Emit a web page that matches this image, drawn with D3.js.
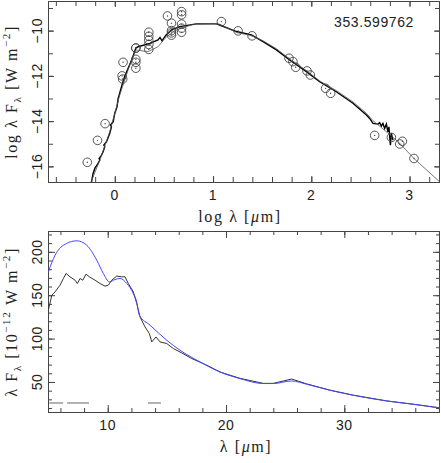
<!DOCTYPE html>
<html>
<head>
<meta charset="utf-8">
<script src="https://cdn.jsdelivr.net/npm/d3@7"></script>
<style>
  body { margin: 0; background: #fff; }
  svg { display: block; }
  .tick line { stroke: #444; }
  .domain { stroke: none; }
  .num { font-family: "Liberation Sans", Arial, sans-serif; font-size: 14px; letter-spacing: 0.6px; fill: #222; }
  .ttl { font-family: "Liberation Serif", "Times New Roman", serif; font-size: 16px; letter-spacing: 1.6px; fill: #222; }
</style>
</head>
<body>
<svg width="441" height="463"></svg>
<script>
// ---- top panel: log lambda / log lambda F_lambda ----
var photLogLam = [-0.28, -0.176, -0.099, 0.084, 0.074, 0.08, 0.214, 0.214, 0.214, 0.214, 0.214,
    0.346, 0.346, 0.346, 0.346, 0.346, 0.536, 0.577, 0.577, 0.577, 0.577,
    0.68, 0.68, 0.68, 0.68, 0.68, 1.085, 1.255, 1.397, 1.773, 1.813, 1.841,
    1.956, 1.99, 2.146, 2.197, 2.645, 2.815, 2.90, 2.927, 3.045];
var photLogF = [-15.82, -14.85, -14.11, -11.40, -12.0, -12.14, -10.77, -10.77, -11.27, -11.40, -11.66,
    -10.07, -10.25, -10.42, -10.61, -10.83, -9.35, -9.67, -10.0, -10.1, -10.2,
    -9.16, -9.30, -9.71, -9.89, -10.07, -9.6, -10.01, -10.23, -11.22, -11.37, -11.62,
    -11.78, -11.96, -12.55, -12.77, -14.63, -14.72, -15.01, -14.89, -15.65];

var sedLogLam = [-0.26, -0.237, -0.221, -0.203, -0.170, -0.153, -0.160, -0.135, -0.119, -0.102, -0.112,
    -0.084, -0.051, -0.034, -0.044, -0.017, 0.0, 0.023, 0.034, 0.044, 0.068, 0.084, 0.099,
    0.150, 0.183, 0.214, 0.237, 0.356, 0.44, 0.46, 0.48, 0.52, 0.577, 0.661, 0.831, 1.035,
    1.068, 1.238, 1.391, 1.509, 1.645, 1.78, 1.95, 2.085, 2.255, 2.424, 2.561, 2.594,
    2.628, 2.679, 2.696, 2.713, 2.729, 2.747, 2.764, 2.780, 2.790, 2.805, 2.815, 2.831];
var sedLogF = [-17.2, -16.68, -16.31, -16.09, -15.87, -15.72, -15.65, -15.50, -15.35, -15.13, -15.06,
    -14.91, -14.54, -14.25, -14.17, -14.03, -13.65, -13.36, -12.99, -12.85, -12.48, -12.26, -12.04,
    -11.52, -11.16, -10.77, -10.71, -10.56, -10.41, -10.30, -10.45, -10.20, -9.97, -9.82, -9.70, -9.70,
    -9.75, -10.04, -10.19, -10.49, -10.85, -11.30, -11.81, -12.26, -12.70, -13.21, -13.73, -13.88,
    -14.10, -14.13, -14.07, -14.22, -14.10, -14.32, -14.13, -14.47, -14.25, -15.06, -14.54, -14.84];

var modLogLam = [-0.27, -0.15, -0.05, 0.05, 0.15, 0.214, 0.338, 0.44, 0.526, 0.628, 0.8, 1.0,
    1.068, 1.238, 1.391, 1.509, 1.645, 1.78, 1.95, 2.085, 2.255, 2.424, 2.561, 2.628,
    2.815, 2.899, 3.045, 3.306];
var modLogF = [-17.0, -15.7, -14.45, -12.85, -11.55, -10.85, -10.93, -10.71, -10.27, -9.97, -9.72, -9.68,
    -9.72, -10.08, -10.22, -10.45, -10.80, -11.25, -11.76, -12.22, -12.65, -13.15, -13.65, -13.98,
    -14.65, -14.98, -15.65, -16.68];

var topXTicks = [0, 1, 2, 3];
var topYTicks = [-10, -12, -14, -16];
var idLabel = "353.599762";

// ---- bottom panel: lambda / lambda F_lambda ----
var specLam = [4.98, 5.27, 5.55, 5.97, 6.25, 6.48, 6.81, 7.24, 7.43, 7.66, 7.89, 8.17, 8.44, 8.93,
    9.35, 9.77, 10.05, 10.34, 10.76, 11.18, 11.46, 11.74, 12.16, 12.45, 12.73, 13.15, 13.52,
    13.72, 14.08, 14.42, 14.99, 15.55, 16.26, 17.1, 18.08, 18.93, 19.49, 21.18, 23.15, 24.0,
    25.55, 26.82, 28.79, 30.76, 33.58, 35.83, 38.09];
var specF = [132.7, 150.0, 153.9, 161.6, 169.3, 175.1, 171.2, 167.3, 163.5, 169.3, 167.3, 174.3, 171.2, 167.3,
    163.5, 160.4, 161.6, 167.3, 172.0, 171.2, 171.2, 163.5, 153.9, 140.5, 125.0, 113.5, 105.8,
    96.2, 101.9, 96.2, 94.3, 88.5, 83.5, 77.0, 71.2, 65.5, 61.5, 54.2, 48.4, 48.4,
    53.4, 47.8, 40.6, 34.8, 28.2, 24.4, 20.2];

var fitLam = [4.98, 5.55, 6.53, 7.38, 8.22, 9.07, 9.63, 10.14, 10.62, 11.04, 11.61, 12.16, 12.45,
    12.67, 13.58, 14.99, 16.11, 17.8, 19.49, 21.18, 23.15, 24.0, 25.55, 26.82, 28.79, 30.76,
    33.58, 35.83, 38.09];
var fitF = [176.9, 196.2, 209.7, 212.7, 207.7, 190.4, 175.0, 165.4, 168.1, 169.3, 163.5, 152.0, 142.3,
    127.0, 115.4, 98.1, 86.6, 73.1, 61.5, 53.9, 48.2, 48.2, 51.2, 47.4, 40.4, 34.7,
    28.1, 24.3, 20.0];

var rangeStart = [5.05, 6.56, 13.4];
var rangeEnd = [6.23, 8.42, 14.5];
var rangeLevel = 25.8;

var botXTicks = [10, 20, 30];
var botYTicks = [50, 100, 150, 200];

// ---------------------------------------------------------------
var svg = d3.select("svg");
var L = 48, R = 440;

var x1 = d3.scaleLinear().domain([-0.68, 3.31]).range([L, R]);
var y1 = d3.scaleLinear().domain([-16.69, -8.69]).range([182, 1]);
var x2 = d3.scaleLinear().domain([4.95, 38.09]).range([L, R]);
var y2 = d3.scaleLinear().domain([15.4, 224]).range([412, 231]);

svg.append("defs").append("clipPath").attr("id", "c1")
    .append("rect").attr("x", L).attr("y", 1).attr("width", R - L).attr("height", 181);
svg.select("defs").append("clipPath").attr("id", "c2")
    .append("rect").attr("x", L).attr("y", 231).attr("width", R - L).attr("height", 181);

function frame(x, y, xMinor, yMinor, xMajorLen, yMajorLen, minorLen, xMajor, yMajor) {
    var t = y.range()[1], b = y.range()[0];
    var g = svg.append("g");
    [[d3.axisBottom, b], [d3.axisTop, t]].forEach(function (a) {
        g.append("g").attr("transform", "translate(0," + a[1] + ")")
            .call(a[0](x).tickValues(xMinor).tickSize(-minorLen).tickFormat(""));
        g.append("g").attr("transform", "translate(0," + a[1] + ")")
            .call(a[0](x).tickValues(xMajor).tickSize(-xMajorLen).tickFormat(""));
    });
    [[d3.axisLeft, L], [d3.axisRight, R]].forEach(function (a) {
        g.append("g").attr("transform", "translate(" + a[1] + ",0)")
            .call(a[0](y).tickValues(yMinor).tickSize(-minorLen).tickFormat(""));
        g.append("g").attr("transform", "translate(" + a[1] + ",0)")
            .call(a[0](y).tickValues(yMajor).tickSize(-yMajorLen).tickFormat(""));
    });
    g.selectAll(".tick line").attr("stroke", "#444");
    g.append("rect").attr("x", L + 0.5).attr("y", t + 0.5)
        .attr("width", R - L - 1).attr("height", b - t)
        .attr("fill", "none").attr("stroke", "#444");
}

// top panel frame
frame(x1, y1, d3.range(-0.6, 3.31, 0.2), d3.range(-16, -8.69, 1), 6, 6, 5, topXTicks, topYTicks);

svg.append("g").selectAll("text").data(topXTicks).enter().append("text")
    .attr("class", "num").attr("x", x1).attr("y", 200).attr("text-anchor", "middle")
    .text(function (d) { return d; });
svg.append("g").selectAll("text").data(topYTicks).enter().append("text")
    .attr("class", "num").attr("text-anchor", "middle")
    .attr("transform", function (d) { return "translate(42," + y1(d) + ") rotate(-90)"; })
    .text(function (d) { return String(d).replace("-", "\u2212"); });

var gTop = svg.append("g").attr("clip-path", "url(#c1)");
var lineTop = d3.line().x(function (d) { return x1(d[0]); }).y(function (d) { return y1(d[1]); });

gTop.append("path").datum(d3.zip(sedLogLam, sedLogF)).attr("d", lineTop)
    .attr("fill", "none").attr("stroke", "#000").attr("stroke-width", 1.4);
gTop.append("path").datum(d3.zip(modLogLam, modLogF)).attr("d", lineTop)
    .attr("fill", "none").attr("stroke", "#555").attr("stroke-width", 0.8);

var pts = gTop.selectAll("g.pt").data(d3.zip(photLogLam, photLogF)).enter().append("g")
    .attr("transform", function (d) { return "translate(" + x1(d[0]) + "," + y1(d[1]) + ")"; });
pts.append("circle").attr("r", 4.3).attr("fill", "none").attr("stroke", "#444").attr("stroke-width", 0.9);
pts.append("circle").attr("r", 0.7).attr("fill", "#444");

svg.append("text").attr("class", "num").attr("x", 414).attr("y", 27)
    .attr("text-anchor", "end").text(idLabel);

var tx = svg.append("text").attr("class", "ttl").attr("x", 240).attr("y", 222).attr("text-anchor", "middle");
tx.append("tspan").text("log \u03bb [");
tx.append("tspan").style("font-style", "italic").text("\u03bc");
tx.append("tspan").text("m]");

var ty = svg.append("text").attr("class", "ttl").attr("text-anchor", "middle")
    .attr("transform", "translate(17,92) rotate(-90)");
ty.append("tspan").text("log \u03bb F");
ty.append("tspan").attr("dy", 4).style("font-size", "11px").text("\u03bb");
ty.append("tspan").attr("dy", -4).text(" [W  m");
ty.append("tspan").attr("dy", -7).style("font-size", "11px").text("\u22122");
ty.append("tspan").attr("dy", 7).text("]");

// bottom panel frame
frame(x2, y2, d3.range(6, 38.1, 2), d3.range(20, 224, 10), 7, 7, 4, botXTicks, botYTicks);

svg.append("g").selectAll("text").data(botXTicks).enter().append("text")
    .attr("class", "num").attr("x", x2).attr("y", 430).attr("text-anchor", "middle")
    .text(function (d) { return d; });
svg.append("g").selectAll("text").data(botYTicks).enter().append("text")
    .attr("class", "num").attr("text-anchor", "middle")
    .attr("transform", function (d) { return "translate(42," + y2(d) + ") rotate(-90)"; })
    .text(function (d) { return d; });

var gBot = svg.append("g").attr("clip-path", "url(#c2)");
var lineBot = d3.line().x(function (d) { return x2(d[0]); }).y(function (d) { return y2(d[1]); });

gBot.selectAll("line.rng").data(d3.zip(rangeStart, rangeEnd)).enter().append("line")
    .attr("x1", function (d) { return x2(d[0]); }).attr("x2", function (d) { return x2(d[1]); })
    .attr("y1", y2(rangeLevel)).attr("y2", y2(rangeLevel))
    .attr("stroke", "#888").attr("stroke-width", 1.3);

gBot.append("path").datum(d3.zip(specLam, specF)).attr("d", lineBot)
    .attr("fill", "none").attr("stroke", "#333").attr("stroke-width", 1);
gBot.append("path").datum(d3.zip(fitLam, fitF)).attr("d", lineBot.curve(d3.curveMonotoneX))
    .attr("fill", "none").attr("stroke", "#4545ff").attr("stroke-width", 1);

var bx = svg.append("text").attr("class", "ttl").attr("x", 246).attr("y", 452).attr("text-anchor", "middle");
bx.append("tspan").text("\u03bb [");
bx.append("tspan").style("font-style", "italic").text("\u03bc");
bx.append("tspan").text("m]");

var by = svg.append("text").attr("class", "ttl").attr("text-anchor", "middle")
    .attr("transform", "translate(17,322) rotate(-90)");
by.append("tspan").text("\u03bb F");
by.append("tspan").attr("dy", 4).style("font-size", "11px").text("\u03bb");
by.append("tspan").attr("dy", -4).text(" [10");
by.append("tspan").attr("dy", -7).style("font-size", "11px").text("\u221212");
by.append("tspan").attr("dy", 7).text(" W  m");
by.append("tspan").attr("dy", -7).style("font-size", "11px").text("\u22122");
by.append("tspan").attr("dy", 7).text("]");
</script>
</body>
</html>
